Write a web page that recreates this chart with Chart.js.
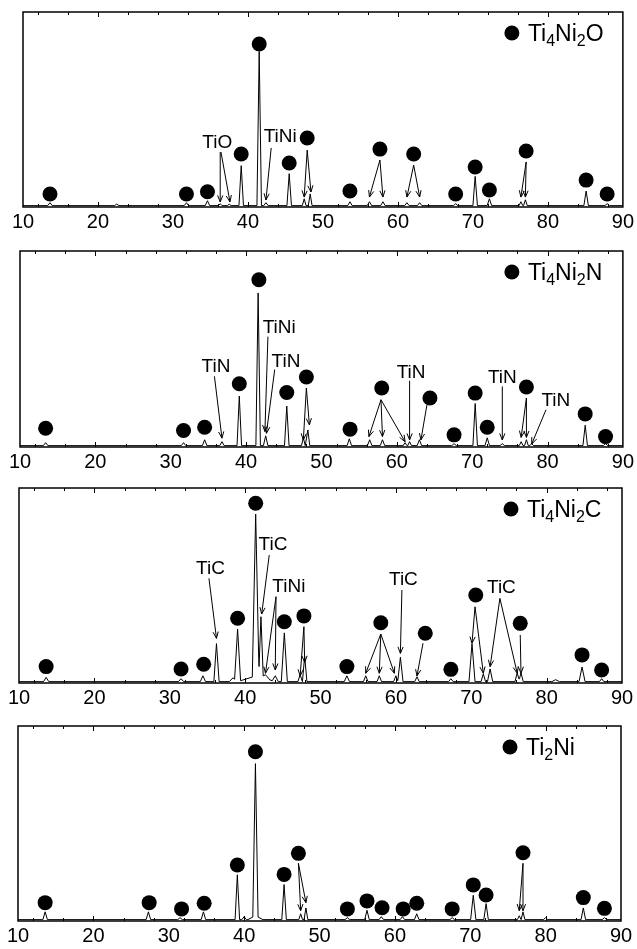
<!DOCTYPE html>
<html><head><meta charset="utf-8">
<script src="https://cdn.jsdelivr.net/npm/chart.js@4/dist/chart.umd.min.js"></script>
<style>
html,body{margin:0;padding:0;background:#fff;}
#wrap{position:relative;width:637px;height:949px;overflow:hidden;background:#fff;}
canvas{position:absolute;left:0;}
</style></head><body><div id="wrap">
<canvas id="c1"></canvas><canvas id="c2"></canvas><canvas id="c3"></canvas><canvas id="c4"></canvas>
</div>
<script>
// ---------- shared axis data ----------
const xTickLabels = [10, 20, 30, 40, 50, 60, 70, 80, 90];
const minorTicks = [12,16,20,24,28,32,36,40,44,48,52,56,60,64,68,72,76,80,84,88];
const majorTicks = [20, 40, 60, 80];

// ---------- Panel 1 : Ti4Ni2O ----------
// peaks: [2theta, height, half width]
const peaks1 = [[13.6,1.5,0.3],[22.5,0.8,0.3],[31.8,1.5,0.3],[34.6,2.5,0.3],[36.3,1,0.25],[37.5,0.8,0.25],
  [39.1,20.5,0.3],[41.5,79,0.3],[42.4,1.5,0.3],[45.5,16.4,0.3],[47.5,3.5,0.25],[48.3,6,0.25],[53.6,2,0.3],
  [56.2,2,0.3],[58.0,2,0.3],[61.2,1.5,0.3],[62.9,1.5,0.3],[67.7,1,0.3],[70.3,15,0.3],[72.2,3.5,0.3],
  [76.4,2,0.25],[77.0,3,0.25],[85.1,7.5,0.3],[87.9,1,0.3]];
const circles1 = [[13.6,6.7],[31.8,6.7],[34.6,7.8],[39.1,27.2],[41.5,83.6],[45.5,22.6],[47.9,35.4],[53.6,8.2],
  [57.6,29.7],[62.1,27.2],[67.7,6.7],[70.3,20.5],[72.2,8.7],[77.1,28.7],[85.1,13.8],[87.9,6.7]];
const arrows1 = [[36.3,28.2,36.3,2.6],[36.4,28.2,37.6,2.6],[43.1,30.3,42.4,3.6],[47.9,29.2,47.5,5.1],
  [47.9,29.2,48.4,7.7],[57.6,24.1,56.2,5.1],[57.6,24.1,58.0,5.1],[62.1,21.5,61.2,5.1],[62.1,21.5,62.9,5.1],
  [77.1,23.1,76.4,5.1],[77.1,23.1,77.0,5.1]];
const labels1 = [["TiO",35.9,32.8],["TiNi",44.3,35.9]];
const legend1 = [["Ti",0],["4",1],["Ni",0],["2",1],["O",0]];

// ---------- Panel 2 : Ti4Ni2N ----------
const peaks2 = [[13.4,1.5,0.3],[31.7,1.5,0.3],[34.5,3,0.3],[36.8,2,0.3],[39.1,25.3,0.3],[41.6,77.9,0.3],
  [42.6,5,0.3],[45.4,20.2,0.3],[47.6,4,0.25],[48.2,8,0.25],[53.7,3.5,0.3],[56.4,3,0.3],[58.1,3,0.3],
  [61.1,1.5,0.25],[61.7,2,0.25],[63.0,3,0.3],[67.6,1,0.3],[70.4,21.5,0.3],[72.0,4,0.3],[74.0,1,0.3],
  [76.5,2,0.25],[77.2,3,0.25],[77.9,1,0.25],[85.0,10.4,0.3],[87.7,1,0.3]];
const circles2 = [[13.4,9.6],[31.7,8.4],[34.5,10.1],[39.1,32.3],[41.7,85.3],[45.4,27.8],[48.0,35.7],[53.8,9.1],
  [58.0,30.1],[64.4,25.0],[67.6,6.2],[70.4,27.5],[72.0,10.1],[77.2,30.6],[85.0,16.9],[87.7,5.3]];
const arrows2 = [[35.8,36.1,36.8,4.5],[42.9,56.3,42.5,7.9],[43.8,39.5,42.7,7.0],[48.0,30.1,47.6,3.6],
  [48.0,30.1,48.4,11.3],[57.9,24.1,56.3,5.3],[57.9,24.1,58.1,5.3],[57.9,24.1,61.1,2.7],[61.7,33.8,61.7,3.6],
  [64.0,21.5,63.2,3.6],[74.0,30.9,74.0,3.6],[77.2,25.0,76.5,4.9],[77.2,25.0,77.2,4.9],[79.8,19,77.9,1.5]];
const labels2 = [["TiN",36.0,40.7],["TiNi",44.4,60.9],["TiN",45.3,43.7],["TiN",61.9,38.1],["TiN",74.0,35.2],["TiN",81.1,23.6]];
const legend2 = [["Ti",0],["4",1],["Ni",0],["2",1],["N",0]];

// ---------- Panel 3 : Ti4Ni2C ----------
const peaks3 = [[13.6,2.2,0.35],[31.5,1.5,0.35],[34.4,3,0.35],[36.2,19.5,0.35],[38.4,2,0.5],[39.0,27,0.4],
  [41.5,3,2.5],[41.4,83,0.45],[42.1,31,0.3],[42.7,2,0.6],[44.0,3,0.4],[45.2,25,0.4],[47.3,3.5,0.3],
  [47.9,13,0.3],[53.5,3,0.35],[56.0,3,0.3],[57.8,3,0.3],[60.0,3,0.3],[60.6,12.5,0.35],[62.8,2.5,0.3],
  [67.3,1.5,0.3],[70.1,19.5,0.4],[71.6,4,0.3],[72.5,6.5,0.35],[76.1,4.5,0.3],[76.6,4.5,0.3],[81.2,1,0.5],
  [84.7,7.5,0.4],[87.3,1.5,0.3]];
const circles3 = [[13.6,8.4],[31.5,7.2],[34.5,9.6],[39.0,33.2],[41.4,92.2],[45.2,31.4],[47.8,34.4],[53.5,8.4],
  [58.0,30.9],[63.9,25.5],[67.3,7.0],[70.6,45.1],[76.5,30.6],[84.7,14.4],[87.3,6.7]];
const arrows3 = [[35.2,53.7,36.2,22.9],[43.2,65.6,42.2,35.4],[44.1,44.3,42.7,5.0],[44.1,44.3,44.0,6.7],
  [47.8,28.9,47.3,3.6],[47.8,28.9,47.9,10.6],[58.0,25.1,56.0,5.0],[58.0,25.1,57.8,5.0],[58.0,25.1,59.8,5.0],
  [60.8,47.7,60.6,15.2],[63.6,20.4,62.8,3.6],[70.5,39.1,70.1,20.4],[70.5,39.1,71.6,5.0],[73.8,43.4,72.5,8.4],
  [73.8,43.4,76.1,5.0],[76.5,24.6,76.6,5.0]];
const labels3 = [["TiC",35.4,58.8],["TiC",43.7,70.8],["TiNi",45.8,49.4],["TiC",61.0,52.8],["TiC",74.0,48.6]];
const legend3 = [["Ti",0],["4",1],["Ni",0],["2",1],["C",0]];

// ---------- Panel 4 : Ti2Ni ----------
const peaks4 = [[13.6,4,0.3],[27.3,4,0.3],[31.5,1,0.3],[34.6,4,0.3],[39.1,23,0.3],[40.0,1.5,0.3],
  [41.5,2,1.0],[41.5,78,0.35],[45.3,18,0.3],[47.5,3,0.25],[48.2,6,0.25],[53.7,1,0.3],[56.3,4.8,0.3],
  [58.2,1.5,0.3],[61.0,1.5,0.3],[62.9,3,0.3],[67.6,1,0.3],[70.4,12.5,0.35],[72.1,8.2,0.3],[76.5,2,0.25],
  [77.0,4,0.25],[80.0,1,0.3],[85.0,6,0.3],[87.8,1,0.3]];
const circles4 = [[13.6,9.4],[27.4,9.4],[31.7,6.2],[34.7,9.1],[39.1,28.7],[41.5,86.8],[45.3,23.9],[47.2,34.7],
  [53.7,6.2],[56.3,10.3],[58.3,6.8],[61.1,6.2],[62.9,9.1],[67.6,6.2],[70.4,18.5],[72.1,13.3],[77.0,35.0],
  [85.0,12.0],[87.8,6.5]];
const arrows4 = [[47.2,29.6,47.5,5.3],[47.2,29.6,48.2,9.4],[77.0,29.6,76.5,5.3],[77.0,29.6,77.0,5.3]];
const labels4 = [];
const legend4 = [["Ti",0],["2",1],["Ni",0]];

// ---------- helpers ----------
const FONT = '"Liberation Sans", Arial, Helvetica, sans-serif';
const BASE = 0.7;
function buildSeries(peaks) {
  const xs = new Set([10, 90]);
  peaks.forEach(([c, h, w]) => { xs.add(c - w); xs.add(c); xs.add(c + w); });
  return [...xs].sort((a, b) => a - b).map(x => ({
    x, y: BASE + peaks.reduce((s, [c, h, w]) => s + Math.max(0, h * (1 - Math.abs(x - c) / w)), 0)
  }));
}

const annotPlugin = {
  id: 'annot',
  afterDatasetsDraw(chart, args, o) {
    const ctx = chart.ctx, xs = chart.scales.x, ys = chart.scales.y;
    ctx.save();
    ctx.strokeStyle = '#000'; ctx.lineWidth = 1;
    o.arrows.forEach(([x1, y1, x2, y2]) => {
      const px1 = xs.getPixelForValue(x1), py1 = ys.getPixelForValue(y1);
      const px2 = xs.getPixelForValue(x2), py2 = ys.getPixelForValue(y2);
      ctx.beginPath(); ctx.moveTo(px1, py1); ctx.lineTo(px2, py2); ctx.stroke();
      const a = Math.atan2(py2 - py1, px2 - px1), L = 7, s = 0.38;
      ctx.beginPath();
      ctx.moveTo(px2 - L * Math.cos(a - s), py2 - L * Math.sin(a - s));
      ctx.lineTo(px2, py2);
      ctx.lineTo(px2 - L * Math.cos(a + s), py2 - L * Math.sin(a + s));
      ctx.stroke();
    });
    ctx.fillStyle = '#000';
    ctx.font = '19px ' + FONT;
    ctx.textAlign = 'center'; ctx.textBaseline = 'middle';
    o.labels.forEach(([t, x, y]) => {
      ctx.fillText(t, xs.getPixelForValue(x), ys.getPixelForValue(y));
    });
    ctx.restore();
  },
  afterDraw(chart, args, o) {
    const ctx = chart.ctx, ca = chart.chartArea, xs = chart.scales.x;
    ctx.save();
    ctx.strokeStyle = '#000';
    ctx.lineWidth = 1.5;
    ctx.strokeRect(ca.left, ca.top, ca.right - ca.left, ca.bottom - ca.top);
    ctx.lineWidth = 1;
    minorTicks.forEach(v => {
      const px = Math.round(xs.getPixelForValue(v)) + 0.5;
      const len = majorTicks.includes(v) ? 5 : 3;
      ctx.beginPath();
      ctx.moveTo(px, ca.top); ctx.lineTo(px, ca.top + len);
      ctx.moveTo(px, ca.bottom); ctx.lineTo(px, ca.bottom - len);
      ctx.stroke();
    });
    // legend
    const cx = ca.right - 111, cy = ca.top + 21;
    ctx.fillStyle = '#000';
    ctx.beginPath(); ctx.arc(cx, cy, 7.5, 0, Math.PI * 2); ctx.fill();
    let tx = cx + 16;
    ctx.textAlign = 'left'; ctx.textBaseline = 'alphabetic';
    o.legend.forEach(([t, sub]) => {
      ctx.font = (sub ? '16px ' : '23px ') + FONT;
      ctx.fillText(t, tx, cy + (sub ? 13 : 8));
      tx += ctx.measureText(t).width;
    });
    ctx.restore();
  }
};

const panels = [
  {id: 'c1', L: 23, R: 625, T: 12, B: 207, peaks: peaks1, circles: circles1, arrows: arrows1, labels: labels1, legend: legend1},
  {id: 'c2', L: 20, R: 623, T: 251, B: 447, peaks: peaks2, circles: circles2, arrows: arrows2, labels: labels2, legend: legend2},
  {id: 'c3', L: 19, R: 622, T: 488, B: 683, peaks: peaks3, circles: circles3, arrows: arrows3, labels: labels3, legend: legend3},
  {id: 'c4', L: 18, R: 621, T: 726, B: 921, peaks: peaks4, circles: circles4, arrows: arrows4, labels: labels4, legend: legend4}
];

const PADTOP = 12, AXIS_H = 30;
panels.forEach(p => {
  const cv = document.getElementById(p.id);
  const h = (p.B - p.T) + PADTOP + AXIS_H;
  cv.width = 637; cv.height = h;
  cv.style.width = '637px'; cv.style.height = h + 'px';
  cv.style.top = (p.T - PADTOP) + 'px';
  new Chart(cv, {
    type: 'line',
    data: {
      datasets: [
        {
          type: 'scatter', data: p.circles.map(([x, y]) => ({x, y})),
          pointRadius: 7.5, pointHoverRadius: 7.5, pointBackgroundColor: '#000', pointBorderColor: '#000',
          pointBorderWidth: 0, showLine: false, order: 0
        },
        {
          type: 'line', data: buildSeries(p.peaks), borderColor: '#000', borderWidth: 1,
          pointRadius: 0, tension: 0, fill: false, order: 1
        }
      ]
    },
    options: {
      responsive: false, animation: false, devicePixelRatio: 1,
      layout: {padding: {top: PADTOP, left: p.L, right: 637 - p.R, bottom: 0}},
      scales: {
        x: {
          type: 'linear', min: 10, max: 90,
          grid: {display: false, drawTicks: false}, border: {display: false},
          afterBuildTicks: s => { s.ticks = xTickLabels.map(v => ({value: v})); },
          afterFit: s => { s.height = AXIS_H; },
          ticks: {color: '#000', font: {family: FONT, size: 20}, padding: 3, maxRotation: 0, autoSkip: false}
        },
        y: {type: 'linear', min: 0, max: 100, display: false}
      },
      plugins: {
        legend: {display: false}, tooltip: {enabled: false},
        annot: {arrows: p.arrows, labels: p.labels, legend: p.legend}
      }
    },
    plugins: [annotPlugin]
  });
});
</script>
</body></html>
